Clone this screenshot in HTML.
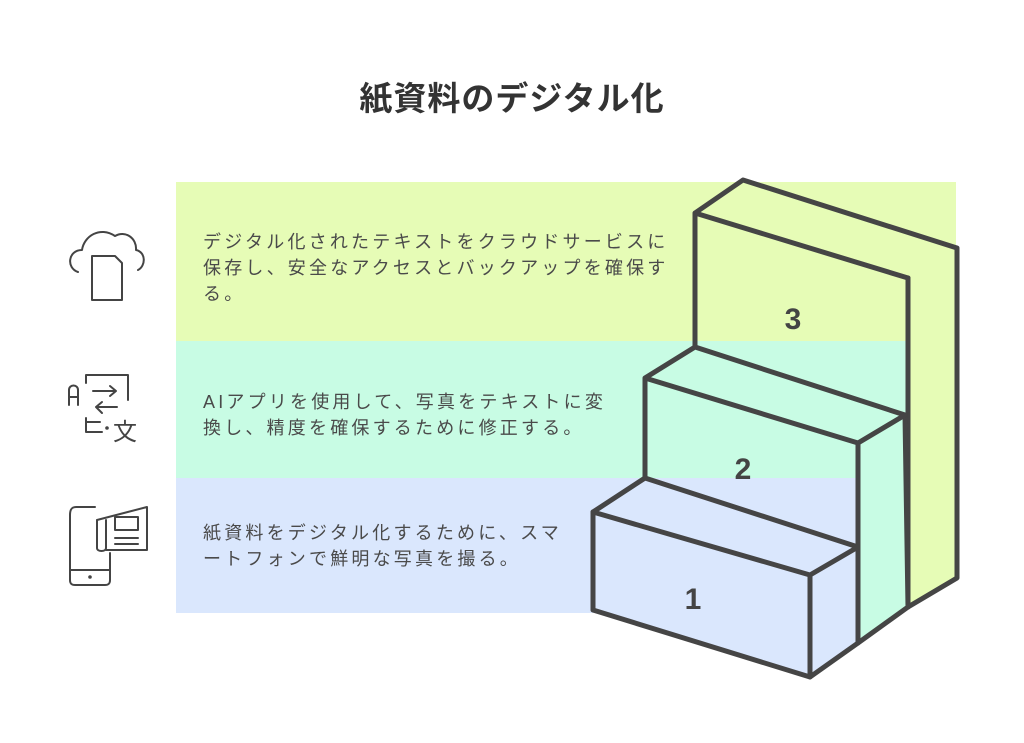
<!DOCTYPE html>
<html><head><meta charset="utf-8"><style>
body{margin:0;width:1024px;height:743px;background:#fff;position:relative;overflow:hidden;font-family:"Liberation Sans","Noto Sans CJK JP",sans-serif;color:#4a4a4a}
.t{position:absolute;left:203px;font-size:18px;line-height:26px;letter-spacing:3.2px;white-space:nowrap}
h1{position:absolute;top:72px;left:0;width:1024px;text-align:center;margin:0;font-size:33px;font-weight:bold;color:#333;letter-spacing:1px}
</style></head><body>
<svg width="1024" height="743" style="position:absolute;left:0;top:0">
<rect x="176" y="182" width="780" height="172" fill="#e6fcb6"/>
<rect x="176" y="341" width="740" height="150" fill="#c8fce4"/>
<rect x="176" y="478" width="685" height="135" fill="#dae7fd"/>
<g stroke="#454545" stroke-width="5" stroke-linejoin="round" stroke-linecap="round">
<path d="M695 347 L695 213 L743 180 L957 248 L957 578 L908 607 L908 278 L695 213 Z" fill="#e6fcb6"/>
<path d="M908 278 L908 607" fill="none"/>
<path d="M645 478 L645 378 L695 347 L905 415 L908 607 L858 643 L858 443 L645 378 Z" fill="#c8fce4"/>
<path d="M858 443 L905 415" fill="none"/>
<path d="M593 512 L645 478 L858 547 L858 643 L810 677 L593 610 Z" fill="#dae7fd"/>
<path d="M593 512 L810 575 L858 547 M810 575 L810 677" fill="none"/>
</g>
<g font-family="Liberation Sans,sans-serif" font-weight="bold" font-size="30" fill="#444" text-anchor="middle">
<text x="793" y="329">3</text><text x="743" y="479">2</text><text x="693" y="609">1</text>
</g>
<g fill="none" stroke="#444" stroke-width="2" stroke-linecap="round" stroke-linejoin="round">
<path d="M78 272 C66 268 68 250 82 250 C84 236 100 226 115 236 C125 230 137 238 136 250 C146 252 146 266 138 270"/>
<path d="M92 256 L115 256 L122 263 L122 300 L92 300 Z"/>
<path d="M69 405 L69 390 C69 384 78 384 78 390 L78 405 M69 397 L78 397"/>
<path d="M86 383 L86 375 L128 375 L128 400"/>
<path d="M93 391 L116 391 M110 386 L116 391 L110 396 M96 407 L117 407 M96 407 L102 402 M96 407 L102 413"/>
<path d="M86 418 L86 432 L102 432 M86 422 L100 422"/>
<path d="M70 515 L70 580 C70 584 72 585 75 585 L105 585 C108 585 110 584 110 580 L110 553 M70 515 C70 509 72 507 76 507 L95 507"/>
<path d="M70 570 L110 570"/>
<path d="M97 520 L97 548 C97 552 106 552 106 548 L106 520 M97 520 L147 507 L147 550 L106 550"/>
<path d="M115 517 L138 517 L138 530 L115 530 Z M115 538 L138 538 M115 544 L138 544"/>
</g>
<circle cx="90" cy="577" r="1.8" fill="#444"/>
<circle cx="107" cy="428" r="1.8" fill="#444"/>
<text x="113" y="440" font-size="24" fill="#444" font-family="Noto Sans CJK JP,sans-serif">文</text>
</svg>
<h1>紙資料のデジタル化</h1>
<div class="t" style="top:229px">デジタル化されたテキストをクラウドサービスに<br>保存し、安全なアクセスとバックアップを確保す<br>る。</div>
<div class="t" style="top:389px">AIアプリを使用して、写真をテキストに変<br>換し、精度を確保するために修正する。</div>
<div class="t" style="top:520px">紙資料をデジタル化するために、スマ<br>ートフォンで鮮明な写真を撮る。</div>
</body></html>
